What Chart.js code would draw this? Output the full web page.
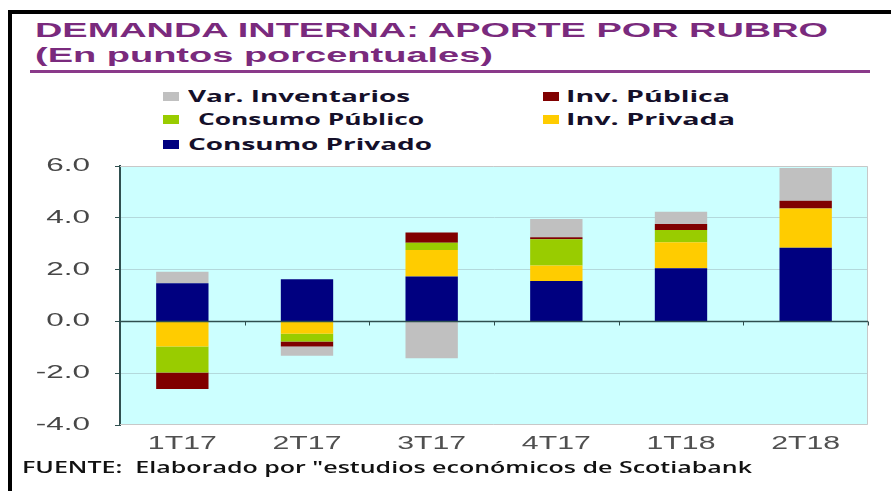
<!DOCTYPE html>
<html>
<head>
<meta charset="utf-8">
<script src="https://cdn.jsdelivr.net/npm/chart.js@4.4.1/dist/chart.umd.min.js"></script>
<style>
  body { margin: 0; width: 891px; height: 491px; background: #fff; overflow: hidden; position: relative; font-family: "Liberation Sans", Arial, sans-serif; }
  #frame { position: absolute; left: 8px; top: 10px; width: 2000px; height: 2000px; border-left: 4px solid #000; border-top: 4px solid #000; }
  .txt { position: absolute; white-space: nowrap; transform-origin: 0 0; }
  .title { color: #7a2a7d; font-weight: bold; font-size: 20px; line-height: 20px; }
  #rule { position: absolute; left: 30px; top: 70px; width: 840px; height: 3px; background: #8a3a8a; }
  .leg { position: absolute; white-space: nowrap; transform-origin: 0 0; font-family: "Open Sans", sans-serif; font-weight: bold; font-size: 16px; line-height: 18px; color: #15102a; }
  .sw { position: absolute; width: 16px; height: 9px; }
  #foot { font-family: "Open Sans", sans-serif; font-weight: 600; font-size: 17px; line-height: 20px; color: #111; }
  #c { position: absolute; left: 0; top: 0; }
</style>
</head>
<body>
<div id="frame"></div>
<div class="txt title" id="t1" style="left:35px; top:20px;">DEMANDA INTERNA: APORTE POR RUBRO</div>
<div class="txt title" id="t2" style="left:35px; top:45px;">(En puntos porcentuales)</div>
<div id="rule"></div>
<div id="legend"></div>
<canvas id="c" width="891" height="491"></canvas>
<div class="txt" id="foot" style="left:22px; top:457px;">FUENTE:&nbsp; Elaborado por "estudios económicos de Scotiabank</div>

<script>
// categories and series (puntos porcentuales)
const quarters = ['1T17', '2T17', '3T17', '4T17', '1T18', '2T18'];
const consumoPrivado = [1.47, 1.63, 1.73, 1.56, 2.05, 2.84];
const invPrivada = [-0.97, -0.48, 1.03, 0.60, 1.01, 1.52];
const consumoPublico = [-1.00, -0.30, 0.28, 1.01, 0.47, 0.00];
const invPublica = [-0.64, -0.19, 0.39, 0.08, 0.23, 0.30];
const varInventarios = [0.45, -0.36, -1.42, 0.70, 0.47, 1.26];
const yTicks = [-4, -2, 0, 2, 4, 6];

const series = [
  { label: 'Consumo Privado', data: consumoPrivado, color: '#000080' },
  { label: 'Inv. Privada', data: invPrivada, color: '#ffcc00' },
  { label: 'Consumo Público', data: consumoPublico, color: '#99cc00' },
  { label: 'Inv. Pública', data: invPublica, color: '#800000' },
  { label: 'Var. Inventarios', data: varInventarios, color: '#c0c0c0' },
];

// stretch a text element to a target width (the source image is stretched sideways)
function fit(el, w) {
  const nat = el.getBoundingClientRect().width;
  el.style.transform = `scaleX(${w / nat})`;
}

fit(document.getElementById('t1'), 793);
fit(document.getElementById('t2'), 458);
fit(document.getElementById('foot'), 730);

// legend: reverse order, two columns (legend box layout)
const legend = document.getElementById('legend');
const swX = [163, 543];
const rowY = [87, 110, 135];
const textX = { 'Var. Inventarios': 188, 'Inv. Pública': 566, 'Consumo Público': 198, 'Inv. Privada': 566, 'Consumo Privado': 188 };
const textW = { 'Var. Inventarios': 222, 'Inv. Pública': 164, 'Consumo Público': 226, 'Inv. Privada': 169, 'Consumo Privado': 244 };
series.slice().reverse().forEach((s, i) => {
  const col = i % 2, row = Math.floor(i / 2);
  const sw = document.createElement('div');
  sw.className = 'sw';
  sw.style.background = s.color;
  sw.style.left = swX[col] + 'px';
  sw.style.top = (rowY[row] + 5) + 'px';
  legend.appendChild(sw);
  const t = document.createElement('div');
  t.className = 'leg';
  t.textContent = s.label;
  t.style.left = textX[s.label] + 'px';
  t.style.top = rowY[row] + 'px';
  legend.appendChild(t);
  fit(t, textW[s.label]);
});

const axisDark = '#2f4f4f';

const stretchedLabels = {
  id: 'stretchedLabels',
  beforeDraw(chart) {
    const { ctx, chartArea: a } = chart;
    ctx.save();
    ctx.fillStyle = '#ccffff';
    ctx.fillRect(a.left, a.top, a.right - a.left, a.bottom - a.top);
    ctx.restore();
  },
  afterDraw(chart) {
    const { ctx, chartArea: a, scales: { x, y } } = chart;
    ctx.save();
    // plot border (top / right / bottom)
    ctx.strokeStyle = '#c8c8c8';
    ctx.lineWidth = 1;
    ctx.beginPath();
    ctx.moveTo(a.left, a.top + 0.5); ctx.lineTo(a.right - 0.5, a.top + 0.5);
    ctx.lineTo(a.right - 0.5, a.bottom - 0.5); ctx.lineTo(a.left, a.bottom - 0.5);
    ctx.stroke();
    // zero line and category tick marks
    const y0 = Math.round(y.getPixelForValue(0)) + 0.5;
    ctx.strokeStyle = axisDark;
    ctx.lineWidth = 1.5;
    ctx.beginPath();
    ctx.moveTo(a.left, y0); ctx.lineTo(a.right, y0);
    ctx.stroke();
    ctx.lineWidth = 1;
    ctx.beginPath();
    for (let i = 1; i <= quarters.length; i++) {
      const bx = i < quarters.length
        ? (x.getPixelForValue(i - 1) + x.getPixelForValue(i)) / 2
        : a.right;
      ctx.moveTo(Math.round(bx) + 0.5, y0); ctx.lineTo(Math.round(bx) + 0.5, y0 + 4);
    }
    ctx.stroke();
    // y labels
    ctx.fillStyle = '#474747';
    ctx.font = '18px "Liberation Sans", Arial, sans-serif';
    ctx.textAlign = 'right';
    ctx.textBaseline = 'middle';
    y.ticks.forEach(t => {
      ctx.save();
      ctx.translate(90, y.getPixelForValue(t.value));
      ctx.scale(1.75, 1);
      ctx.fillText(t.value.toFixed(1), 0, 0);
      ctx.restore();
    });
    // x labels
    ctx.fillStyle = '#505050';
    ctx.textAlign = 'center';
    quarters.forEach((q, i) => {
      ctx.save();
      ctx.translate(x.getPixelForValue(i), a.bottom + 19);
      ctx.scale(1.68, 1);
      ctx.fillText(q, 0, 0);
      ctx.restore();
    });
    ctx.restore();
  }
};

new Chart(document.getElementById('c'), {
  type: 'bar',
  data: {
    labels: quarters,
    datasets: series.map(s => ({
      label: s.label,
      data: s.data,
      backgroundColor: s.color,
      borderWidth: 0,
      categoryPercentage: 1,
      barPercentage: 0.42,
    })),
  },
  options: {
    responsive: false,
    animation: false,
    layout: { padding: { left: 0, right: 23, top: 166, bottom: 36 } },
    plugins: { legend: { display: false }, tooltip: { enabled: false } },
    scales: {
      x: {
        stacked: true,
        grid: { display: false },
        border: { display: false },
        ticks: { display: false },
        afterFit: s => { s.height = 30; },
      },
      y: {
        stacked: true,
        min: -4,
        max: 6,
        afterBuildTicks: s => { s.ticks = yTicks.map(v => ({ value: v })); },
        ticks: { display: false },
        grid: {
          color: c => (c.tick && (c.tick.value === 6 || c.tick.value === -4)) ? 'rgba(0,0,0,0)' : '#b3d9dc',
          tickColor: axisDark,
          tickLength: 5,
          lineWidth: 1,
        },
        border: { color: axisDark, width: 2 },
        afterFit: s => { s.width = 120; },
      },
    },
  },
  plugins: [stretchedLabels],
});
</script>
</body>
</html>
